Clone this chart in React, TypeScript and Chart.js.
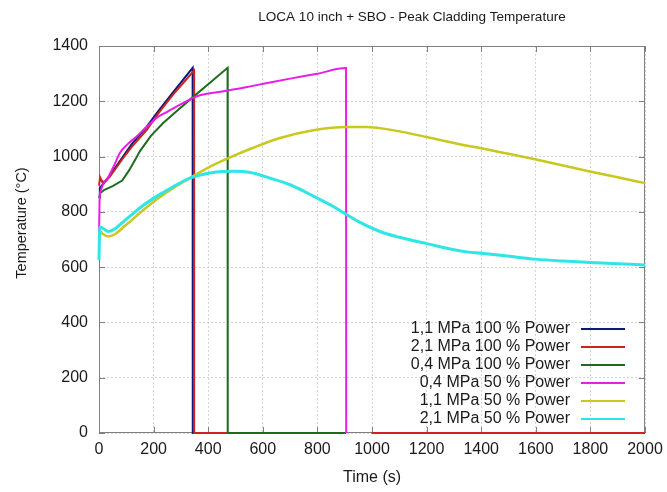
import { useEffect, useRef } from "react";
import { Chart, registerables } from "chart.js";

Chart.register(...registerables);

const FONT = '"Liberation Sans", Arial, Helvetica, sans-serif';

const titleText = "LOCA 10 inch + SBO - Peak Cladding Temperature";
const xTitle = "Time (s)";
const yTitle = "Temperature (°C)";

const xTickValues = [0, 200, 400, 600, 800, 1000, 1200, 1400, 1600, 1800, 2000];
const yTickValues = [0, 200, 400, 600, 800, 1000, 1200, 1400];

const seriesLabels = [
  "1,1 MPa 100 % Power",
  "2,1 MPa 100 % Power",
  "0,4 MPa 100 % Power",
  "0,4 MPa 50 % Power",
  "1,1 MPa 50 % Power",
  "2,1 MPa 50 % Power",
];
const seriesColors = ["#0b1a75", "#cc2222", "#1e6b1e", "#e61ee6", "#c8c81e", "#2ee6e6"];
const seriesWidths = [2, 2, 2, 2, 2.5, 3];
const seriesSmooth = [false, false, false, true, true, true];

// 1,1 MPa 100 % Power
const t11_100 = [0, 3, 10, 25, 40, 60, 84, 120, 175, 220, 271, 310, 343, 343.5, 348];
const T11_100 = [852, 885, 895, 912, 930, 960, 995, 1045, 1108, 1168, 1232, 1280, 1321, 0, 0];

// 2,1 MPa 100 % Power (null = gap)
const t21_100 = [0, 4, 12, 25, 40, 60, 84, 120, 175, 220, 271, 310, 348, 348.5, 905, 950, 998, 2000];
const T21_100 = [895, 925, 908, 912, 928, 955, 989, 1035, 1097, 1160, 1224, 1268, 1311, 0, 0, null, 0, 0];

// 0,4 MPa 100 % Power
const t04_100 = [0, 5, 20, 50, 85, 110, 133, 150, 190, 236, 285, 333, 400, 471, 471.5, 905];
const T04_100 = [850, 868, 880, 893, 913, 950, 989, 1020, 1075, 1122, 1165, 1206, 1262, 1321, 0, 0];

// 0,4 MPa 50 % Power
const t04_50 = [0, 2, 6, 15, 35, 54, 77, 105, 138, 175, 211, 250, 285, 320, 358, 400, 455, 550, 700, 800, 905, 905.5];
const T04_50 = [690, 840, 875, 900, 928, 965, 1014, 1045, 1073, 1108, 1140, 1162, 1182, 1200, 1218, 1228, 1236, 1253, 1282, 1300, 1320, 0];

// 1,1 MPa 50 % Power
const t11_50 = [0, 3, 12, 34, 60, 90, 120, 160, 211, 270, 333, 400, 480, 560, 663, 785, 907, 980, 1090, 1212, 1334, 1400, 1500, 1597, 1700, 1798, 1900, 2000];
const T11_50 = [712, 730, 722, 711, 720, 745, 770, 805, 845, 885, 922, 960, 997, 1030, 1067, 1095, 1107, 1107, 1093, 1068, 1042, 1030, 1010, 990, 968, 946, 925, 904];

// 2,1 MPa 50 % Power
const t21_50 = [0, 3, 12, 34, 60, 90, 120, 160, 211, 270, 333, 400, 450, 500, 550, 626, 700, 760, 810, 846, 907, 960, 1029, 1100, 1200, 1334, 1400, 1505, 1597, 1700, 1798, 1900, 2000];
const T21_50 = [625, 745, 742, 729, 740, 765, 790, 822, 856, 890, 922, 940, 946, 947, 943, 922, 898, 870, 844, 826, 790, 760, 729, 708, 685, 657, 650, 639, 629, 622, 617, 612, 608];

const seriesT = [t11_100, t21_100, t04_100, t04_50, t11_50, t21_50];
const seriesV = [T11_100, T21_100, T04_100, T04_50, T11_50, T21_50];

const decor = {
  id: "decor",
  beforeDatasetsDraw(chart: any) {
    const { ctx, chartArea: a, scales } = chart;
    ctx.save();
    ctx.strokeStyle = "#808080";
    ctx.lineWidth = 1;
    ctx.strokeRect(a.left + 0.5, a.top + 0.5, a.right - a.left - 1, a.bottom - a.top - 1);
    ctx.beginPath();
    for (const v of xTickValues) {
      const x = Math.round(scales.x.getPixelForValue(v)) + 0.5;
      ctx.moveTo(x, a.bottom);
      ctx.lineTo(x, a.bottom - 6);
      ctx.moveTo(x, a.top);
      ctx.lineTo(x, a.top + 6);
    }
    for (const v of yTickValues) {
      const y = Math.round(scales.y.getPixelForValue(v)) + 0.5;
      ctx.moveTo(a.left, y);
      ctx.lineTo(a.left + 6, y);
      ctx.moveTo(a.right, y);
      ctx.lineTo(a.right - 6, y);
    }
    ctx.stroke();
    ctx.restore();
  },
  afterDraw(chart: any) {
    const { ctx } = chart;
    ctx.save();
    ctx.fillStyle = "#1a1a1a";
    ctx.textBaseline = "middle";
    ctx.textAlign = "center";
    ctx.font = `13.5px ${FONT}`;
    ctx.fillText(titleText, 412, 17);
    ctx.font = `16px ${FONT}`;
    ctx.fillText(xTitle, 372, 478);
    ctx.save();
    ctx.translate(22, 223);
    ctx.rotate(-Math.PI / 2);
    ctx.font = `14.5px ${FONT}`;
    ctx.fillText(yTitle, 0, 0);
    ctx.restore();
    // legend
    ctx.font = `16px ${FONT}`;
    ctx.textAlign = "right";
    seriesLabels.forEach((lab, i) => {
      const y = 329 + i * 18;
      ctx.fillStyle = "#1a1a1a";
      ctx.fillText(lab, 570, y);
      ctx.strokeStyle = seriesColors[i];
      ctx.lineWidth = 2;
      ctx.beginPath();
      ctx.moveTo(581, y);
      ctx.lineTo(625, y);
      ctx.stroke();
    });
    ctx.restore();
  },
};

export default function App() {
  const ref = useRef<HTMLCanvasElement | null>(null);
  useEffect(() => {
    if (!ref.current) return;
    const datasets = seriesLabels.map((label, i) => ({
      label,
      data: seriesT[i].map((t, k) => ({ x: t, y: seriesV[i][k] })),
      borderColor: seriesColors[i],
      backgroundColor: seriesColors[i],
      borderWidth: seriesWidths[i],
      pointRadius: 0,
      tension: 0,
      cubicInterpolationMode: seriesSmooth[i] ? "monotone" : "default",
      spanGaps: false,
      fill: false,
      order: 6 - i,
      clip: 4,
    }));
    const chart = new Chart(ref.current, {
      type: "line",
      data: { datasets } as any,
      options: {
        animation: false,
        responsive: false,
        maintainAspectRatio: false,
        layout: { padding: { top: 46, right: 22, left: 0, bottom: 0 } },
        plugins: { legend: { display: false }, tooltip: { enabled: false }, title: { display: false } },
        scales: {
          x: {
            type: "linear",
            min: 0,
            max: 2000,
            afterFit: (s: any) => {
              s.height = 59;
              s.paddingLeft = 0;
              s.paddingRight = 0;
            },
            afterBuildTicks: (s: any) => { s.ticks = xTickValues.map((v) => ({ value: v })); },
            ticks: {
              font: { family: FONT, size: 16 },
              color: "#1a1a1a",
              padding: 7,
              maxRotation: 0,
              autoSkip: false,
              callback: (v: any) => String(v),
            },
            grid: { color: "#d4d4d4", drawTicks: false, lineWidth: 1 },
            border: { display: false, dash: [2, 2] },
          },
          y: {
            type: "linear",
            min: 0,
            max: 1400,
            afterFit: (s: any) => {
              s.width = 99;
              s.paddingTop = 0;
              s.paddingBottom = 0;
            },
            afterBuildTicks: (s: any) => { s.ticks = yTickValues.map((v) => ({ value: v })); },
            ticks: {
              font: { family: FONT, size: 16 },
              color: "#1a1a1a",
              padding: 11,
              autoSkip: false,
              callback: (v: any) => String(v),
            },
            grid: { color: "#d4d4d4", drawTicks: false, lineWidth: 1 },
            border: { display: false, dash: [2, 2] },
          },
        },
      } as any,
      plugins: [decor],
    });
    return () => chart.destroy();
  }, []);
  return (
    <div style={{ position: "fixed", left: 0, top: 0, width: 667, height: 492, background: "#fff" }}>
      <canvas ref={ref} width={667} height={492} style={{ display: "block" }} />
    </div>
  );
}
